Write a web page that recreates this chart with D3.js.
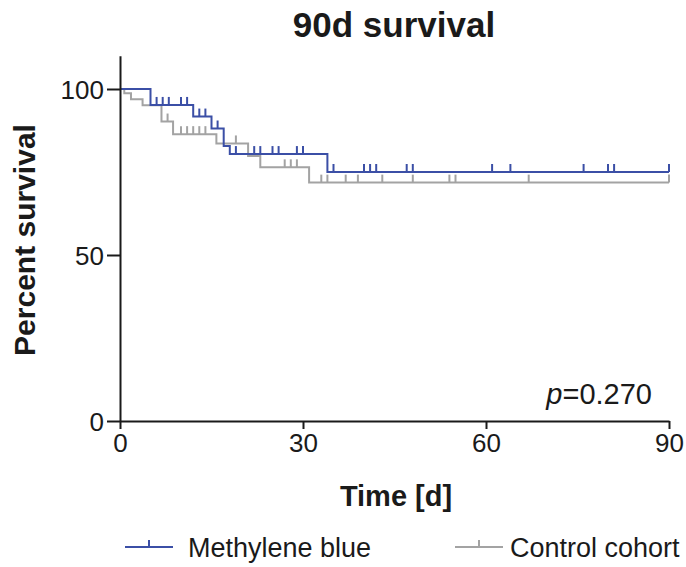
<!DOCTYPE html>
<html>
<head>
<meta charset="utf-8">
<script src="https://cdn.jsdelivr.net/npm/d3@7"></script>
<style>
  body { margin: 0; background: #fff; }
  text { font-family: "Liberation Sans", Arial, sans-serif; fill: #1a1a1a; }
</style>
</head>
<body>
<div id="chart"></div>
<script>
// step times (days) and percent survival
var blueTimes = [0, 5, 12, 15, 17, 18, 34];
var blueSurv = [100, 95.2, 91.7, 88.1, 82.8, 80.4, 75.0];
var blueCensor = [6, 7, 8, 10, 11, 13, 14, 16, 19, 22, 23, 25, 26, 29, 30, 35, 40, 41, 42, 47, 48, 61, 64, 76, 80, 81, 90];

var grayTimes = [0, 0.7, 1.8, 3.7, 6.8, 8.7, 15.8, 21, 23, 31];
var graySurv = [100, 98.7, 96.9, 95.1, 90.2, 86.4, 83.6, 79.8, 76.4, 71.8];
var grayCensor = [7.8, 10, 11, 12, 13, 14, 19, 27, 28, 29, 33, 34, 37, 39, 43, 48, 54, 55, 67, 90];

var xTicks = [0, 30, 60, 90];
var yTicks = [0, 50, 100];
var seriesNames = ["Methylene blue", "Control cohort"];
var seriesColors = ["#3b4fa6", "#a3a3a3"];

var svgWidth = 686;
var svgHeight = 567;

var svg = d3.select("#chart")
  .append("svg")
  .attr("width", svgWidth)
  .attr("height", svgHeight);

var x = d3.scaleLinear()
  .domain([0, 90])
  .range([120, 669]);

var y = d3.scaleLinear()
  .domain([0, 110])
  .range([421, 55.8]);

// survival at time t for a step curve
function survAt(times, surv, t) {
  var s = surv[0];
  for (var i = 0; i < times.length; i++) {
    if (times[i] <= t) s = surv[i];
  }
  return s;
}

var stepLine = d3.line()
  .x(d => x(d[0]))
  .y(d => y(d[1]))
  .curve(d3.curveStepAfter);

var series = [
  { times: grayTimes, surv: graySurv, censor: grayCensor, color: seriesColors[1] },
  { times: blueTimes, surv: blueSurv, censor: blueCensor, color: seriesColors[0] }
];

series.forEach(function(s) {
  var pts = s.times.map((t, i) => [t, s.surv[i]]);
  pts.push([90, s.surv[s.surv.length - 1]]);

  svg.append("path")
    .attr("d", stepLine(pts))
    .attr("fill", "none")
    .attr("stroke", s.color)
    .attr("stroke-width", 2);

  svg.selectAll(null)
    .data(s.censor)
    .enter()
    .append("line")
    .attr("x1", d => x(d))
    .attr("x2", d => x(d))
    .attr("y1", d => y(survAt(s.times, s.surv, d)))
    .attr("y2", d => y(survAt(s.times, s.surv, d)) - 8)
    .attr("stroke", s.color)
    .attr("stroke-width", 2);
});

// axes
var leftAxis = d3.axisLeft(y)
  .tickValues(yTicks)
  .tickSize(13)
  .tickSizeOuter(0)
  .tickPadding(3);

var bottomAxis = d3.axisBottom(x)
  .tickValues(xTicks)
  .tickSize(8)
  .tickSizeOuter(0)
  .tickPadding(5);

var gx = svg.append("g")
  .attr("transform", "translate(0, 421)")
  .call(bottomAxis);

var gy = svg.append("g")
  .attr("transform", "translate(120, 0)")
  .call(leftAxis);

[gx, gy].forEach(function(g) {
  g.selectAll("path, line").attr("stroke", "#1a1a1a").attr("stroke-width", 2);
  g.selectAll("text")
    .attr("font-size", "26px")
    .attr("fill", "#1a1a1a")
    .style("font-family", "'Liberation Sans', Arial, sans-serif");
});
gy.selectAll("text").attr("dy", "0.36em");

// title and labels
svg.append("text")
  .attr("x", 394)
  .attr("y", 37)
  .attr("text-anchor", "middle")
  .attr("font-size", "35px")
  .attr("font-weight", "bold")
  .text("90d survival");

svg.append("text")
  .attr("transform", "translate(35, 240) rotate(-90)")
  .attr("text-anchor", "middle")
  .attr("font-size", "30px")
  .attr("font-weight", "bold")
  .text("Percent survival");

svg.append("text")
  .attr("x", 396)
  .attr("y", 506)
  .attr("text-anchor", "middle")
  .attr("font-size", "29px")
  .attr("font-weight", "bold")
  .text("Time [d]");

var pText = svg.append("text")
  .attr("x", 652)
  .attr("y", 404)
  .attr("text-anchor", "end")
  .attr("font-size", "29px");
pText.append("tspan").attr("font-style", "italic").text("p");
pText.append("tspan").text("=0.270");

// legend
var legendX = [125, 455];
var legend = svg.selectAll(".legend")
  .data(seriesNames)
  .enter()
  .append("g")
  .attr("class", "legend")
  .attr("transform", (d, i) => `translate(${legendX[i]}, 547)`);

legend.append("line")
  .attr("x1", 0).attr("x2", 48)
  .attr("stroke", (d, i) => seriesColors[i])
  .attr("stroke-width", 2);

legend.append("line")
  .attr("x1", 24).attr("x2", 24)
  .attr("y1", 0).attr("y2", -7)
  .attr("stroke", (d, i) => seriesColors[i])
  .attr("stroke-width", 2);

legend.append("text")
  .attr("x", (d, i) => i === 0 ? 63 : 55)
  .attr("y", 10)
  .attr("font-size", "27px")
  .text(d => d);
</script>
</body>
</html>
